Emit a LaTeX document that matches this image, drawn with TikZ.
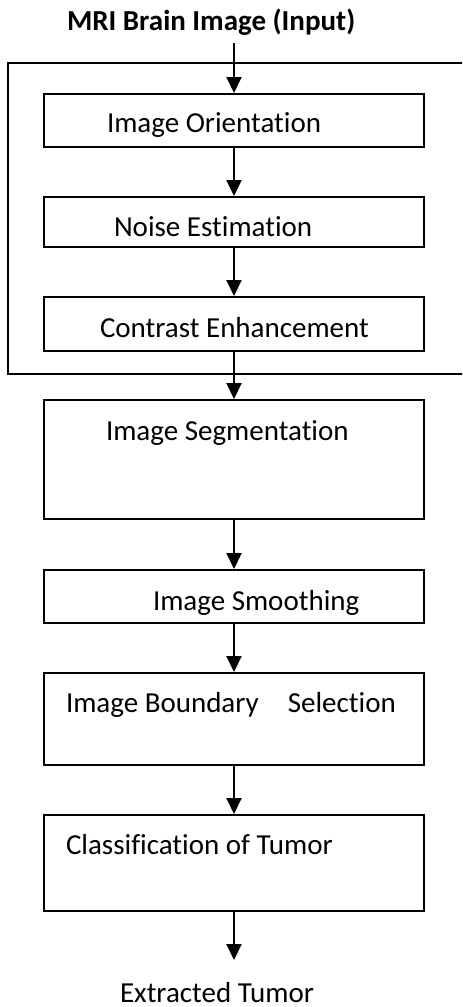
\documentclass[tikz,border=0pt]{standalone}
\usepackage{fontspec}
\setmainfont[Ligatures=NoCommon]{Carlito}
\usetikzlibrary{arrows.meta}

\begin{document}
\begin{tikzpicture}[x=0.5pt,y=-0.5pt,line width=1pt,
  stage/.style={draw,minimum width=190pt,inner sep=0pt},
  lbl/.style={anchor=base west,inner sep=0pt,font=\fontsize{14.5}{17}\selectfont},
  >={Triangle[width=7.5pt,length=8pt]}]
\useasboundingbox (0,0) rectangle (462,1007);
\clip (0,0) rectangle (462,1007);

\node[lbl,font=\fontsize{14.5}{17}\selectfont\bfseries] (title) at (66,30) {MRI Brain Image (Input)};
\coordinate (in) at (234,43);

% pre-processing group
\node[draw,minimum width=236pt,minimum height=155.5pt] (prep) at (244,218.5) {};

\node[stage,minimum height=26.5pt] (orient) at (234,120.5) {};
\node[stage,minimum height=25pt] (noise) at (234,222) {};
\node[stage,minimum height=27pt] (contrast) at (234,324) {};
\node[stage,minimum height=59.5pt] (segment) at (234,459.5) {};
\node[stage,minimum height=26.5pt] (smooth) at (234,596.5) {};
\node[stage,minimum height=46pt] (boundary) at (234,719) {};
\node[stage,minimum height=48pt] (classify) at (234,863) {};

\node[lbl] (orientT) at (106,132) {Image Orientation};
\node[lbl] (noiseT) at (113,236) {Noise Estimation};
\node[lbl] (contrastT) at (99,337) {Contrast Enhancement};
\node[lbl] (segmentT) at (105,440) {Image Segmentation};
\node[lbl] (smoothT) at (152,610) {Image Smoothing};
\node[lbl] (boundaryT) at (65,712) {Image Boundary\hspace{1em}Selection};
\node[lbl] (classifyT) at (65,854) {Classification of Tumor};

\coordinate (out) at (234,960);
\node[lbl,text depth=0pt] (result) at (119,1002) {Extracted Tumor};

\draw[->] (in) to (orient);
\draw[->] (orient) to (noise);
\draw[->] (noise) to (contrast);
\draw[->] (contrast) to (segment);
\draw[->] (segment) to (smooth);
\draw[->] (smooth) to (boundary);
\draw[->] (boundary) to (classify);
\draw[->] (classify) to (out);
\end{tikzpicture}
\end{document}
